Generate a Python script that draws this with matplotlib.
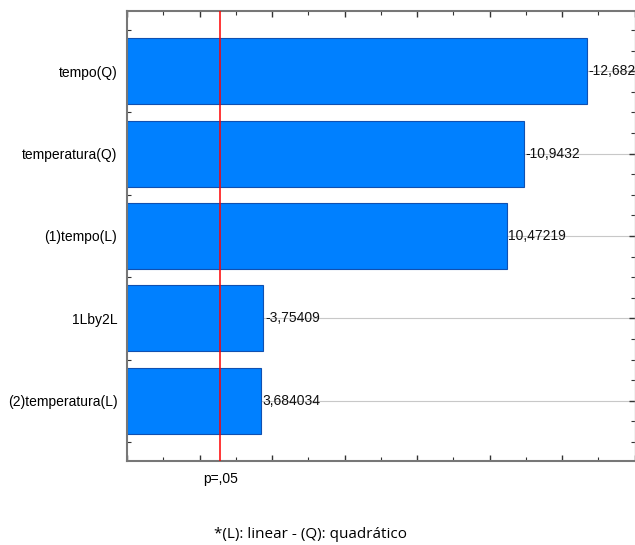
import matplotlib
matplotlib.use("Agg")
import matplotlib.pyplot as plt
from matplotlib.ticker import MultipleLocator


### EFFECT ESTIMATES (STANDARDIZED) ###
effects = ["tempo(Q)", "temperatura(Q)", "(1)tempo(L)", "1Lby2L", "(2)temperatura(L)"]
t_values = [-12.6821, -10.9432, 10.47219, -3.75409, 3.684034]
value_labels = ["-12,6821", "-10,9432", "10,47219", "-3,75409", "3,684034"]
p_limit = 2.571


plt.rcParams["font.family"] = ["Liberation Sans", "DejaVu Sans"]

fig = plt.figure(figsize=(6.35, 5.45), dpi=100)
ax = fig.add_axes([127 / 635, 1 - 461 / 545, 507.5 / 635, 450 / 545])

ypos = list(range(len(effects)))
lengths = [abs(v) for v in t_values]

ax.barh(ypos, lengths, height=0.8, color="#0080ff", edgecolor="#1050b0",
        linewidth=0.8, zorder=2)

### VALUE LABELS AT BAR ENDS ###
for y, length, lab in zip(ypos, lengths, value_labels):
    ax.text(length + 0.05, y, lab, ha="left", va="center", fontsize=10,
            color="#111111", zorder=3)

ax.axvline(p_limit, color="#ff0000", linewidth=1.1, zorder=4)

ax.set_xlim(0, 14)
ax.set_ylim(4.73, -0.73)
ax.set_yticks(ypos)
ax.set_yticklabels(effects, fontsize=10)
ax.yaxis.set_minor_locator(MultipleLocator(0.25))
ax.set_xticks(range(0, 15, 2))
ax.xaxis.set_minor_locator(MultipleLocator(1))
ax.set_xticklabels([])

ax.grid(axis="y", which="major", color="#c8c8c8", linewidth=0.8, zorder=0)
ax.set_axisbelow(True)

ax.tick_params(which="both", direction="in", top=True, right=True, color="#333333")
ax.tick_params(which="major", length=4, width=1)
ax.tick_params(which="minor", length=3, width=0.8)
ax.tick_params(axis="y", pad=7)

for side in ["left", "bottom", "top"]:
    ax.spines[side].set_color("#777777")
    ax.spines[side].set_linewidth(1.5)
ax.spines["right"].set_color("#bbbbbb")
ax.spines["right"].set_linewidth(1.0)

### P-VALUE AND FOOTNOTE ###
ax.text(p_limit, -0.025, "p=,05", transform=ax.get_xaxis_transform(),
        ha="center", va="top", fontsize=10)

fig.text(310 / 635, 1 - 535 / 545, "*(L): linear - (Q): quadrático",
         ha="center", va="center", fontsize=11, family=["Open Sans", "DejaVu Sans"])

fig.savefig("out.png", dpi=100)
